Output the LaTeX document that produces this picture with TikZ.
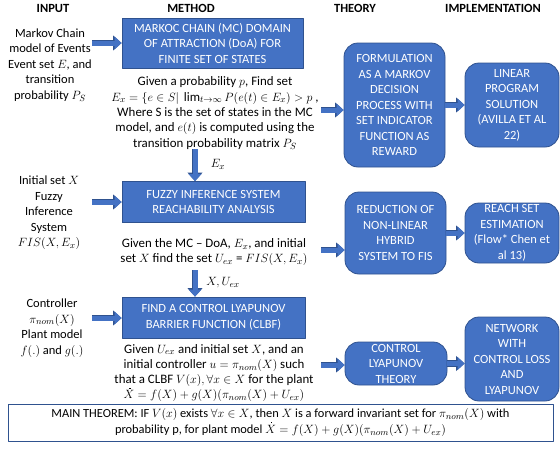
\documentclass[tikz,border=0pt]{standalone}
\usepackage{amsmath,amssymb}
\usepackage{fontspec}
\setmainfont{Carlito}
\usetikzlibrary{arrows.meta,calc}
\definecolor{boxblue}{HTML}{4472C4}
\definecolor{edgeblue}{HTML}{2F528F}
\newcommand{\Xdot}{\mbox{\ooalign{$X$\cr\hidewidth\kern2pt\raisebox{9.8pt}{\rule{1.2pt}{1.2pt}}\hidewidth\cr}}}

\begin{document}
\begin{tikzpicture}[x=1pt,y=-1pt,line join=round,
  txt/.style={align=center,font=\fontsize{12.5}{15.5}\selectfont,inner sep=0pt},
  desc/.style={txt,font=\fontsize{12.9}{15.3}\selectfont},
  head/.style={font=\fontsize{12.5}{15}\selectfont\bfseries,inner sep=0pt},
  mbox/.style={txt,draw=edgeblue,fill=boxblue,text=white,line width=0.8pt},
  rbox/.style={mbox,rounded corners=14pt},
  blk/.style={line cap=butt,line width=5pt,draw=boxblue,-{Triangle[length=7pt,width=12.5pt]},
    preaction={draw=edgeblue,line width=6.2pt,-{Triangle[length=8.5pt,width=14.5pt]}}}]
\useasboundingbox (0,0) rectangle (560,450);
% column heads
\foreach \t/\x in {INPUT/53,METHOD/191,THEORY/355,IMPLEMENTATION/493}
  \node[head] (h\x) at (\x,8) {\t};
% inputs
\node[txt] (mcin) at (50,65) {Markov Chain\\ model of Events\\ Event set $E$, and\\ transition\\ probability $P_S$};
\node[txt] (fisin) at (49,213) {Initial set $X$\\ Fuzzy\\ Inference\\ System\\ $FIS(X,E_x)$};
\node[txt] (clbfin) at (52,328) {Controller\\ $\pi_{nom}(X)$\\ Plant model\\ $f(.)$ and $g(.)$};
% method
\node[mbox,minimum width=181pt,minimum height=50pt] (mc) at (212.5,43) {MARKOC CHAIN (MC) DOMAIN\\ OF ATTRACTION (DoA) FOR\\ FINITE SET OF STATES};
\node[mbox,minimum width=183pt,minimum height=41pt] (fis) at (213.5,202) {FUZZY INFERENCE SYSTEM\\ REACHABILITY ANALYSIS};
\node[mbox,minimum width=183pt,minimum height=41pt] (clbf) at (213.5,317.5) {FIND A CONTROL LYAPUNOV\\ BARRIER FUNCTION (CLBF)};
\node[desc] (mcd) at (215,113) {Given a probability $p$, Find set\\ $E_x=\{e\in S|\ \lim_{t\to\infty}P(e(t)\in E_x)>p$ ,\\ Where S is the set of states in the MC\\ model, and $e(t)$ is computed using the\\ transition probability matrix $P_S$};
\node[desc] (fisd) at (214,252) {Given the MC – DoA, $E_x$, and initial\\ set $X$ find the set $U_{ex}$ = $FIS(X,E_x)$};
\node[desc] (clbfd) at (214,373) {Given $U_{ex}$ and initial set $X$, and an\\ initial controller $u=\pi_{nom}(X)$ such\\ that a CLBF $V(x),\forall x\in X$ for the plant\\ $\Xdot=f(X)+g(X)(\pi_{nom}(X)+U_{ex})$};
% theory
\node[rbox,minimum width=101pt,minimum height=124pt] (mdp) at (394.5,105) {FORMULATION\\ AS A MARKOV\\ DECISION\\ PROCESS WITH\\ SET INDICATOR\\ FUNCTION AS\\ REWARD};
\node[rbox,minimum width=101pt,minimum height=82pt] (red) at (395.5,233) {REDUCTION OF\\ NON-LINEAR\\ HYBRID\\ SYSTEM TO FIS};
\node[rbox,minimum width=102pt,minimum height=43pt] (clt) at (396,363.5) {CONTROL\\ LYAPUNOV\\ THEORY};
% implementation
\node[rbox,minimum width=94pt,minimum height=84pt] (lp) at (512,105) {LINEAR\\ PROGRAM\\ SOLUTION\\ (AVILLA ET AL\\ 22)};
\node[rbox,minimum width=94pt,minimum height=60pt] (rse) at (512,233) {REACH SET\\ ESTIMATION\\ (Flow* Chen et\\ al 13)};
\node[rbox,minimum width=94pt,minimum height=84pt] (nn) at (512,359) {NETWORK\\ WITH\\ CONTROL LOSS\\ AND\\ LYAPUNOV};
% main theorem
\node[txt,draw=edgeblue,line width=0.8pt,minimum width=545pt,minimum height=37pt,
  font=\fontsize{12.4}{15.5}\selectfont] (thm) at (280.5,422.5) {MAIN THEOREM: IF $V(x)$ exists $\forall x\in X$, then $X$ is a forward invariant set for $\pi_{nom}(X)$ with\\ probability p, for plant model $\Xdot=f(X)+g(X)(\pi_{nom}(X)+U_{ex})$};
% arrows
\foreach \n/\y/\b in {1/43/mc,2/202/fis,3/318/clbf}{
  \coordinate (ain\n) at (92,\y);
  \draw[blk] (ain\n) -- (ain\n -| \b.west);}
\foreach \n/\y/\b in {1/110/mdp,2/250/red,3/365/clt}{
  \coordinate (ath\n) at (321,\y);
  \draw[blk] (ath\n) -- (ath\n -| \b.west);}
\draw[blk] (mdp.east) -- (mdp.east -| lp.west);
\draw[blk] (red.east) -- (red.east -| rse.west);
\draw[blk] (clt.east) -- (clt.east -| nn.west);
\coordinate (d1) at (195,149);
\coordinate (d2) at (195,270);
\draw[blk] (d1) -- (d1 |- fis.north);
\draw[blk] (d2) -- (d2 |- clbf.north);
\node[txt] (exl) at (218,164) {$E_x$};
\node[txt] (xul) at (223,283) {$X,U_{ex}$};
\end{tikzpicture}
\end{document}
